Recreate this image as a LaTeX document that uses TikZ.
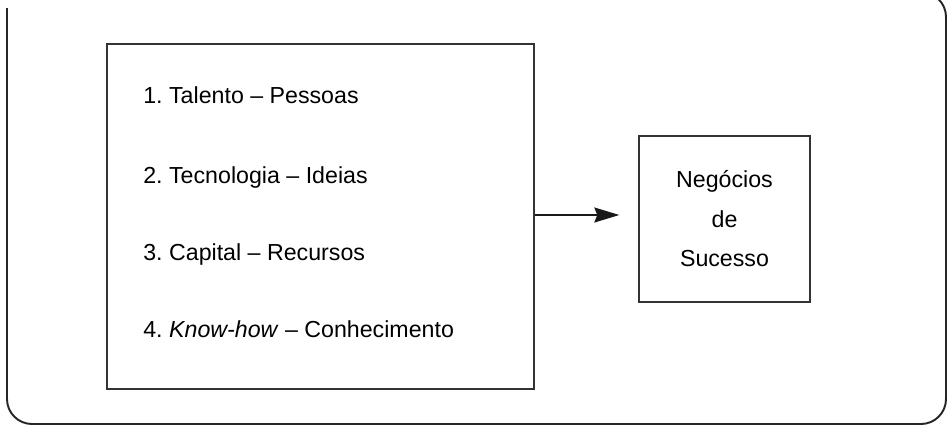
\documentclass[tikz,border=0pt]{standalone}
\usepackage{fontspec}
\setmainfont{Liberation Sans}
\usetikzlibrary{arrows.meta}
\frenchspacing

\tikzstyle{frame} = [line width=1.1pt, draw=black!85, rounded corners=0.5cm]
\tikzstyle{rect} = [rectangle, draw=black!80, line width=0.8pt, inner sep=0pt]
\tikzstyle{item} = [anchor=base west, inner sep=0pt, font=\fontsize{13.2}{15}\selectfont]
\tikzstyle{arrow} = [line width=1.1pt, black!90, -{Stealth[length=0.5cm, width=0.3cm, inset=0.06cm]}]

\begin{document}
\begin{tikzpicture}[x=0.02cm, y=-0.02cm]

\useasboundingbox (0,0) rectangle (950,426);
\clip (0,0) rectangle (950,426);

\draw[frame] (7,8) -- (7,424) -- (946,424) -- (946,-8) -- (880,-8);

\node (factors) [rect, minimum width=8.54cm, minimum height=6.9cm] at (320.5,216.5) {};

\node (talento) [item] at (143,103) {1. Talento -- Pessoas};
\node (tecnologia) [item] at (143,183) {2. Tecnologia -- Ideias};
\node (capital) [item] at (143,260) {3. Capital -- Recursos};
\node (knowhow) [item] at (143,337) {4. \textit{Know-how} -- Conhecimento};

\node (sucesso) [rect, minimum width=3.42cm, minimum height=3.32cm, align=center,
  font=\fontsize{13.2}{22.5}\selectfont] at (724.5,219) {Negócios\\de\\Sucesso};

\draw[arrow, shorten >=0.38cm] (factors.east |- 0,215) -- (sucesso.west |- 0,215);

\end{tikzpicture}
\end{document}
